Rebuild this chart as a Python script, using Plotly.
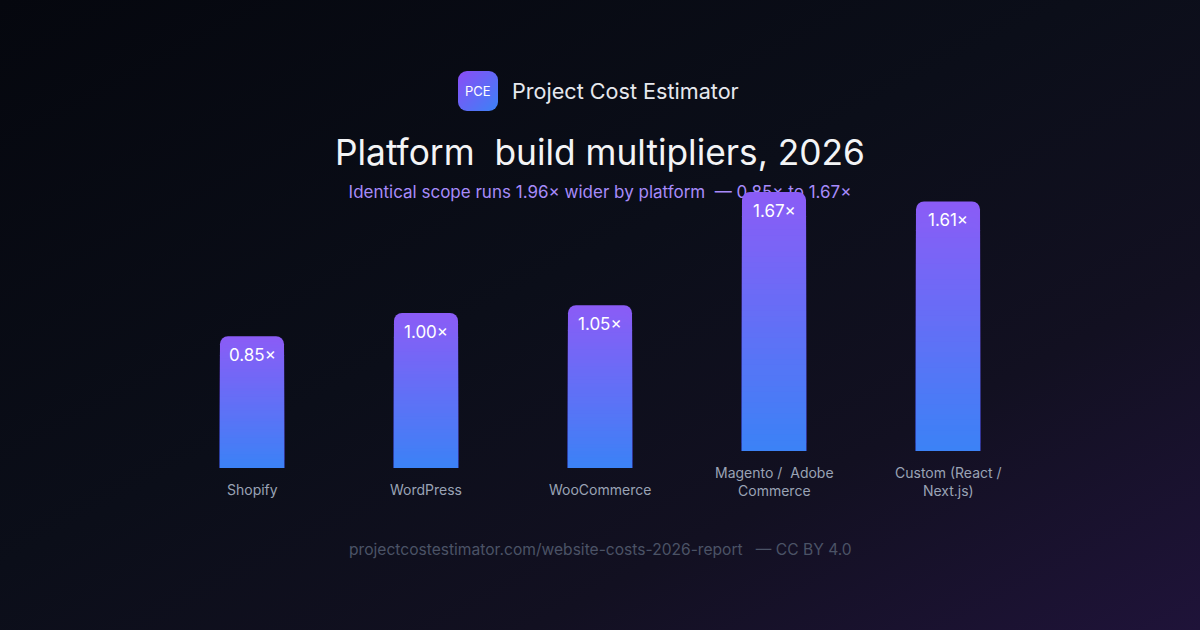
import base64
import plotly.graph_objects as go

# ---------------- data ----------------
categories = ["Shopify", "WordPress", "WooCommerce", "Magento /  Adobe<br>Commerce", "Custom (React /<br>Next.js)"]
multipliers = [0.85, 1.00, 1.05, 1.67, 1.61]

header_text = "Project Cost Estimator"
logo_text = "PCE"
title_text = "Platform\u00a0 build multipliers, 2026"
footer_text = "projectcostestimator.com/website-costs-2026-report\u00a0\u00a0 \u2014 CC BY 4.0"

# ---------------- style ----------------
W, H = 1200, 630
BAR_TOP = (139, 92, 246)     # violet
BAR_BOTTOM = (59, 130, 246)  # blue
N_SLICES = 48
ROUNDED_SLICES = 6           # only the slices near the top need rounded corners
LINE_SHIFT = 0.11            # base lift per extra label line (axis units)
FONT = "Inter, 'Noto Sans', sans-serif"

lo, hi = min(multipliers), max(multipliers)
subtitle_text = f"Identical scope runs {hi/lo:.2f}\u00d7 wider by platform\u00a0 \u2014 {lo:.2f}\u00d7 to {hi:.2f}\u00d7"

bases = [LINE_SHIFT * (c.count("<br>")) for c in categories]
xs = list(range(len(categories)))


def svg_uri(svg):
    return "data:image/svg+xml;base64," + base64.b64encode(svg.encode()).decode()


bg_svg = f"""<svg xmlns='http://www.w3.org/2000/svg' width='{W}' height='{H}' viewBox='0 0 {W} {H}' preserveAspectRatio='none'>
<defs><linearGradient id='g' x1='0' y1='0' x2='1' y2='1'>
<stop offset='0' stop-color='#05070e'/>
<stop offset='0.45' stop-color='#0b0e19'/>
<stop offset='0.72' stop-color='#121021'/>
<stop offset='1' stop-color='#1f1339'/>
</linearGradient></defs>
<rect width='{W}' height='{H}' fill='url(#g)'/></svg>"""

logo_svg = """<svg xmlns='http://www.w3.org/2000/svg' width='40' height='40' viewBox='0 0 40 40'>
<defs><linearGradient id='l' x1='0' y1='0' x2='1' y2='1'>
<stop offset='0' stop-color='#8b4cf6'/>
<stop offset='1' stop-color='#3b82f6'/>
</linearGradient></defs>
<rect width='40' height='40' rx='9' ry='9' fill='url(#l)'/></svg>"""

fig = go.Figure()

# subtitle lives on the background subplot so the bars can overlap it
fig.add_trace(go.Scatter(
    x=[600], y=[194], mode="text", text=[subtitle_text],
    textfont=dict(family=FONT, size=17, color="#a78bfa"),
    xaxis="x", yaxis="y", hoverinfo="skip", showlegend=False, cliponaxis=False,
))

# gradient bars: overlaid full-height bars, each shorter one a step bluer
for k in range(N_SLICES):
    t = (k + 0.5) / N_SLICES
    col = tuple(round(BAR_TOP[i] + (BAR_BOTTOM[i] - BAR_TOP[i]) * t) for i in range(3))
    fig.add_trace(go.Bar(
        x=xs, y=[v * (1 - k / N_SLICES) for v in multipliers], base=bases,
        width=0.368,
        marker=dict(color=f"rgb{col}", line=dict(width=0),
                    cornerradius=8 if k < ROUNDED_SLICES else 0),
        xaxis="x2", yaxis="y2", hoverinfo="skip", showlegend=False,
    ))

annotations = []
for x, v, b, c in zip(xs, multipliers, bases, categories):
    annotations.append(dict(
        x=x, y=b + v, xref="x2", yref="y2", text=f"{v:.2f}\u00d7", showarrow=False,
        xanchor="center", yanchor="middle", yshift=-19,
        font=dict(family=FONT, size=17, color="#ffffff"),
    ))
    annotations.append(dict(
        x=x, y=b, xref="x2", yref="y2", text=c, showarrow=False,
        xanchor="center", yanchor="top", yshift=-11, align="center",
        font=dict(family=FONT, size=14, color="#9aa3b5"),
    ))

annotations += [
    dict(x=478 / W, y=1 - 91 / H, xref="paper", yref="paper", text=logo_text, showarrow=False,
         xanchor="center", yanchor="middle", font=dict(family=FONT, size=13, color="#ffffff")),
    dict(x=510 / W, y=1 - 91 / H, xref="paper", yref="paper", text=header_text, showarrow=False,
         xanchor="left", yanchor="middle", font=dict(family=FONT, size=21.6, color="#e6e8ee")),
    dict(x=0.5, y=1 - 152 / H, xref="paper", yref="paper", text=title_text, showarrow=False,
         xanchor="center", yanchor="middle", font=dict(family=FONT, size=35.3, color="#f3f4f6")),
    dict(x=0.5, y=1 - 549 / H, xref="paper", yref="paper", text=footer_text, showarrow=False,
         xanchor="center", yanchor="middle", font=dict(family=FONT, size=15.6, color="#4b5366")),
]

fig.update_layout(
    width=W, height=H,
    margin=dict(l=0, r=0, t=0, b=0),
    paper_bgcolor="#0b0e18", plot_bgcolor="rgba(0,0,0,0)",
    barmode="overlay", showlegend=False,
    xaxis=dict(domain=[0, 1], range=[0, W], visible=False, fixedrange=True),
    yaxis=dict(domain=[0, 1], range=[H, 0], visible=False, fixedrange=True),
    xaxis2=dict(domain=[165 / W, 1035 / W], range=[-0.5, len(categories) - 0.5],
                anchor="y2", visible=False, fixedrange=True),
    yaxis2=dict(domain=[(H - 468) / H, (H - 158) / H], range=[0, 2.0],
                anchor="x2", visible=False, fixedrange=True),
    annotations=annotations,
    images=[
        dict(source=svg_uri(bg_svg), xref="paper", yref="paper", x=0, y=1, sizex=1, sizey=1,
             xanchor="left", yanchor="top", sizing="stretch", layer="below"),
        dict(source=svg_uri(logo_svg), xref="paper", yref="paper", x=458 / W, y=1 - 71 / H,
             sizex=40 / W, sizey=40 / H, xanchor="left", yanchor="top", sizing="stretch", layer="above"),
    ],
)

fig.write_html(
    "out.html",
    config=dict(displayModeBar=False, staticPlot=True),
    post_script="document.body.style.margin='0';document.body.style.overflow='hidden';",
)
